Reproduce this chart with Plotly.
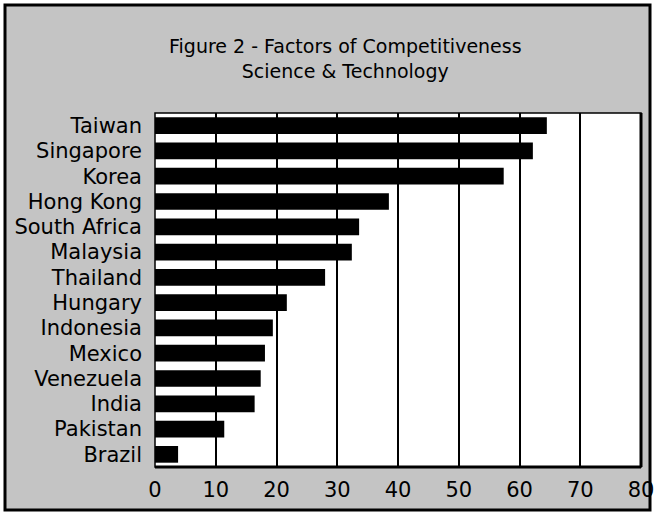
import plotly.graph_objects as go

countries = ["Taiwan", "Singapore", "Korea", "Hong Kong", "South Africa", "Malaysia",
             "Thailand", "Hungary", "Indonesia", "Mexico", "Venezuela", "India",
             "Pakistan", "Brazil"]
scores = [64.5, 62.2, 57.4, 38.5, 33.6, 32.4, 28.0, 21.7, 19.4, 18.1, 17.4, 16.4, 11.4, 3.8]
x_ticks = [0, 10, 20, 30, 40, 50, 60, 70, 80]
title_lines = ["Figure 2 - Factors of Competitiveness", "Science & Technology"]

W, H = 657, 515
L, R, T, B = 155, 16, 113, 48
PW, PH = W - L - R, H - T - B

FONT = "DejaVu Sans"
BG = "#c4c4c4"

fig = go.Figure()
fig.add_trace(go.Bar(
    x=scores, y=countries, orientation="h",
    marker=dict(color="black", line=dict(width=0)),
    width=0.66, showlegend=False, hoverinfo="x+y",
))

fig.update_layout(
    width=W, height=H,
    margin=dict(l=L, r=R, t=T, b=B, pad=0, autoexpand=False),
    paper_bgcolor="white", plot_bgcolor="white",
    font=dict(family=FONT, color="black"),
    xaxis=dict(
        range=[0, 80], tickvals=x_ticks, ticktext=[str(v) for v in x_ticks],
        showgrid=True, gridcolor="black", gridwidth=1.5,
        zeroline=False, showline=False, ticks="", automargin=False,
        tickfont=dict(size=21, family=FONT, color="black"),
        ticklabelstandoff=8, fixedrange=True,
    ),
    yaxis=dict(
        categoryorder="array", categoryarray=countries,
        autorange=False, range=[len(countries) - 0.5, -0.5],
        showgrid=False, zeroline=False, showline=False, ticks="", automargin=False,
        tickfont=dict(size=21, family=FONT, color="black"),
        ticklabelstandoff=12, fixedrange=True,
    ),
    shapes=[
        # textured (grey) panel of the whole figure, with its black frame
        dict(type="rect", xref="paper", yref="paper",
             x0=-(L - 5) / PW, x1=1 + (R - 7) / PW,
             y0=-(B - 5) / PH, y1=1 + (T - 5) / PH,
             line=dict(width=0), fillcolor=BG, layer="below"),
        dict(type="rect", xref="paper", yref="paper",
             x0=-(L - 5) / PW, x1=1 + (R - 7) / PW,
             y0=-(B - 5) / PH, y1=1 + (T - 5) / PH,
             line=dict(color="black", width=3), fillcolor="rgba(0,0,0,0)", layer="above"),
        # white plot panel
        dict(type="rect", xref="paper", yref="paper", x0=0, x1=1, y0=0, y1=1,
             line=dict(width=0), fillcolor="white", layer="below"),
        # plot area frame
        dict(type="rect", xref="paper", yref="paper", x0=0, x1=1, y0=0, y1=1,
             line=dict(color="black", width=1.5), fillcolor="rgba(0,0,0,0)", layer="above"),
        dict(type="line", xref="paper", yref="paper", x0=1, x1=1, y0=0, y1=1,
             line=dict(color="black", width=3), layer="above"),
        dict(type="line", xref="paper", yref="paper", x0=0, x1=1, y0=0, y1=0,
             line=dict(color="black", width=3), layer="above"),
    ],
    annotations=[
        dict(text="<br>".join(title_lines), xref="paper", yref="paper",
             x=(345 - L) / PW, y=(H - B - 59) / PH, xanchor="center", yanchor="middle",
             align="center", showarrow=False,
             font=dict(size=19, family=FONT, color="black")),
    ],
)

fig.write_html("out.html", config={"displayModeBar": False},
               post_script="document.body.style.margin='0px';")
